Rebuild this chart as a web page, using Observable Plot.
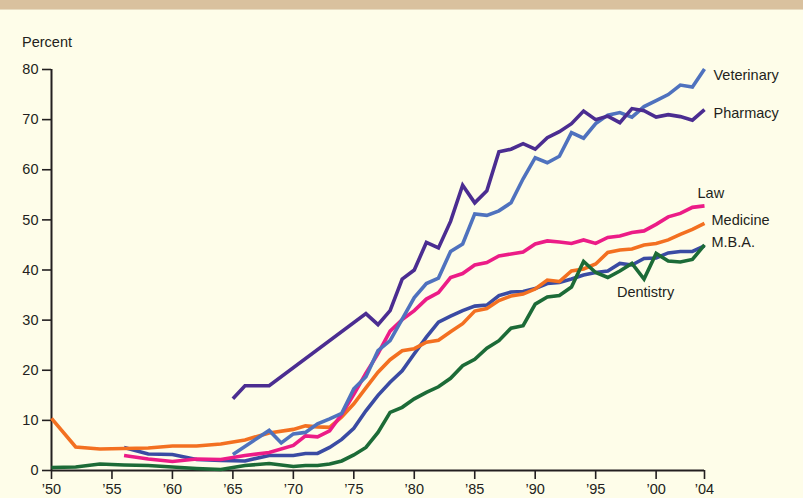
<!DOCTYPE html>
<html><head><meta charset="utf-8">
<script src="https://cdn.jsdelivr.net/npm/d3@7"></script>
<script src="https://cdn.jsdelivr.net/npm/@observablehq/plot@0.6"></script>
<style>
html,body{margin:0;padding:0;background:#fefde9;width:803px;height:498px;overflow:hidden;}
#band{position:absolute;left:0;top:0;width:803px;height:9px;background:#d9c19e;border-bottom:1px solid #e8dcc0;}
#chart{position:absolute;left:0;top:0;}
</style></head><body><div id="chart"></div><div id="band"></div>
<script>
const FONT = '"Liberation Sans", Arial, sans-serif';
const FS = 14.5;

const seriesNames = ["M.B.A.", "Medicine", "Dentistry", "Law", "Veterinary", "Pharmacy"];
const seriesColors = ["#3a4ba3", "#f37021", "#1c6b37", "#ec1c87", "#4f72be", "#4b2d91"];

const earlyYears = [1950, 1952, 1954, 1956, 1958, 1960, 1962, 1964, 1966, 1968];
const annualYears = d3.range(1970, 2005);

const medicineYears = [...earlyYears, ...annualYears];
const medicineValues = [10.4, 4.7, 4.3, 4.4, 4.5, 4.9, 4.9, 5.3, 6.1, 7.5,
  8.2, 8.9, 8.7, 8.6, 10.7, 13.3, 16.5, 19.6, 22.1, 23.9,
  24.3, 25.6, 26.0, 27.7, 29.3, 31.8, 32.3, 33.9, 34.8, 35.2,
  36.2, 38.0, 37.7, 39.8, 40.2, 41.2, 43.5, 44.0, 44.2, 45.0,
  45.3, 46.0, 47.1, 48.1, 49.3];

const dentistryYears = [...earlyYears, ...annualYears];
const dentistryValues = [0.6, 0.7, 1.3, 1.1, 1.0, 0.7, 0.4, 0.2, 1.0, 1.4,
  0.8, 1.0, 1.0, 1.3, 1.9, 3.1, 4.6, 7.6, 11.6, 12.6,
  14.3, 15.6, 16.7, 18.4, 20.9, 22.2, 24.4, 25.9, 28.4, 28.9,
  33.2, 34.6, 34.9, 36.6, 41.7, 39.5, 38.5, 39.8, 41.3, 38.2,
  43.3, 41.8, 41.6, 42.1, 45.0];

const lawYears = [1956, 1958, 1960, 1962, 1964, 1966, 1968, ...annualYears];
const lawValues = [3.0, 2.3, 1.8, 2.3, 2.2, 3.0, 3.6,
  5.0, 6.9, 6.7, 7.9, 11.2, 15.2, 19.4, 23.3, 27.8, 30.1,
  31.9, 34.2, 35.5, 38.5, 39.3, 41.0, 41.5, 42.8, 43.2, 43.6,
  45.2, 45.8, 45.6, 45.3, 46.0, 45.3, 46.5, 46.8, 47.5, 47.8,
  49.1, 50.6, 51.3, 52.5, 52.8];

const mbaYears = [1956, 1958, 1960, 1962, 1964, 1966, 1968, ...annualYears];
const mbaValues = [4.6, 3.3, 3.2, 2.2, 2.0, 1.9, 3.0,
  3.0, 3.4, 3.4, 4.6, 6.2, 8.4, 11.9, 15.0, 17.6, 19.9,
  23.3, 26.6, 29.6, 30.8, 31.9, 32.8, 33.0, 34.9, 35.6, 35.7,
  36.3, 37.3, 37.5, 38.2, 39.0, 39.5, 39.8, 41.3, 41.0, 42.3,
  42.4, 43.4, 43.7, 43.7, 44.8];

const veterinaryYears = [1965, 1968, 1969, ...annualYears];
const veterinaryValues = [3.2, 8.0, 5.5,
  7.3, 7.6, 9.3, 10.3, 11.4, 16.3, 18.7, 23.9, 25.9, 30.2,
  34.5, 37.3, 38.4, 43.7, 45.2, 51.2, 50.9, 51.8, 53.4, 58.2,
  62.4, 61.4, 62.7, 67.4, 66.3, 69.2, 70.9, 71.4, 70.5, 72.6,
  73.8, 75.0, 76.9, 76.5, 80.1];

const pharmacyYears = [1965, 1966, 1968, ...d3.range(1976, 2005)];
const pharmacyValues = [14.3, 16.9, 16.9,
  31.3, 29.1, 31.9, 38.2,
  40.0, 45.5, 44.4, 49.7, 56.9, 53.4, 55.8, 63.6, 64.1, 65.2,
  64.1, 66.4, 67.6, 69.2, 71.7, 70.0, 70.7, 69.4, 72.2, 71.8,
  70.5, 71.0, 70.6, 69.9, 72.0];

const yTicks = [0, 10, 20, 30, 40, 50, 60, 70, 80];
const xTicks = [1950, 1955, 1960, 1965, 1970, 1975, 1980, 1985, 1990, 1995, 2000, 2004];
const xTickLabels = ["’50", "’55", "’60", "’65", "’70", "’75", "’80", "’85", "’90", "’95", "’00", "’04"];

const seriesData = {
  "M.B.A.": [mbaYears, mbaValues],
  "Medicine": [medicineYears, medicineValues],
  "Dentistry": [dentistryYears, dentistryValues],
  "Law": [lawYears, lawValues],
  "Veterinary": [veterinaryYears, veterinaryValues],
  "Pharmacy": [pharmacyYears, pharmacyValues]
};

const rows = [];
for (const name of seriesNames) {
  const [ys, vs] = seriesData[name];
  ys.forEach((yr, i) => rows.push({series: name, year: yr, value: vs[i]}));
}
const pointOf = (name, yr) => rows.find(r => r.series === name && r.year === yr);

// label placement (style): anchor year, dx, dy
const labelStyle = [
  ["Veterinary", 2004, 9, 6],
  ["Pharmacy", 2004, 9, 4],
  ["Law", 2004, -7, -12],
  ["Medicine", 2004, 7, -3],
  ["M.B.A.", 2004, 7, -4],
  ["Dentistry", 1998, -15, 29]
];

const labelMarks = labelStyle.map(([name, yr, dx, dy]) =>
  Plot.text([pointOf(name, yr)], {
    x: "year", y: "value", text: d => d.series, dx, dy,
    textAnchor: "start", lineAnchor: "middle", fill: "#231f20", fontSize: FS
  })
);

const plot = Plot.plot({
  width: 803, height: 498,
  marginLeft: 51, marginRight: 99, marginTop: 69, marginBottom: 28,
  style: {background: "transparent", fontFamily: FONT, fontSize: FS + "px", color: "#231f20", overflow: "visible"},
  x: {domain: [1950, 2004]},
  y: {domain: [0, 80]},
  color: {domain: seriesNames, range: seriesColors},
  marks: [
    Plot.axisY(yTicks, {tickSize: 9, tickPadding: 4, label: null, strokeWidth: 1.6, stroke: "#231f20", fill: "#231f20"}),
    Plot.axisX(xTicks, {tickSize: 9, tickPadding: 4, label: null, strokeWidth: 1.6, stroke: "#231f20", fill: "#231f20",
      tickFormat: d => xTickLabels[xTicks.indexOf(d)]}),
    Plot.ruleX([1950], {y1: 0, y2: 80, stroke: "#231f20", strokeWidth: 2}),
    Plot.ruleY([0], {x1: 1950, x2: 2004, stroke: "#231f20", strokeWidth: 2}),
    Plot.line(rows, {x: "year", y: "value", z: "series", stroke: "series", strokeWidth: 3.6,
      strokeLinejoin: "miter", strokeMiterlimit: 4, strokeLinecap: "butt"}),
    ...labelMarks
  ]
});

d3.select(plot).append("text")
  .attr("x", 22).attr("y", 46.5)
  .attr("text-anchor", "start")
  .attr("fill", "#231f20")
  .style("font-family", FONT).style("font-size", FS + "px")
  .text("Percent");

document.getElementById("chart").appendChild(plot);
</script>
</body></html>
